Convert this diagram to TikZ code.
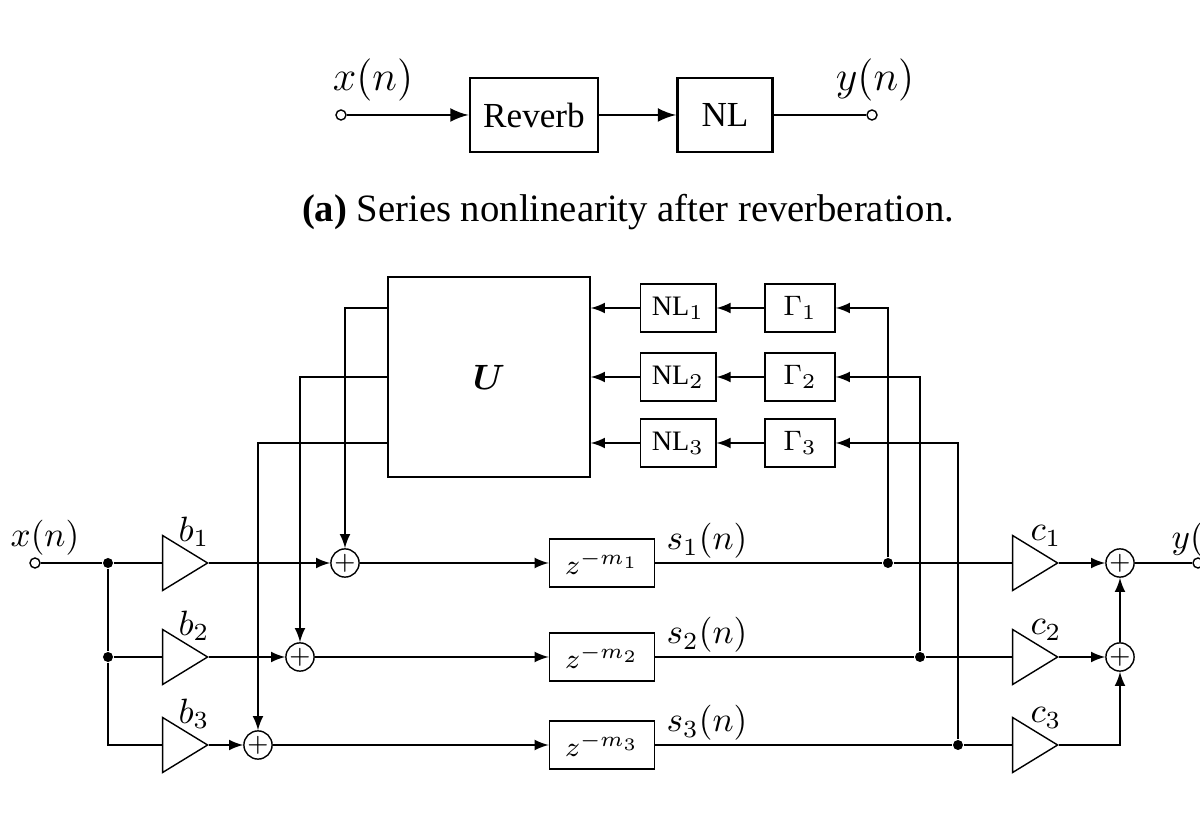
\documentclass[tikz,border=0pt]{standalone}
\usepackage{amsmath,bm}
\usepackage{fontspec}
\setmainfont{Liberation Serif}
\usetikzlibrary{arrows,shapes.geometric}

\begin{document}
\begin{tikzpicture}[x=0.01cm,y=-0.01cm]
    \tikzset{block/.style = {draw, thick, minimum width=1cm, minimum height=0.74cm, font=\normalsize}}
    \tikzset{sblock/.style = {draw, minimum width=0.72cm, minimum height=0.48cm, font=\footnotesize}}
    \tikzset{amp/.style = {draw, isosceles triangle, isosceles triangle apex angle=64, inner sep=0pt, minimum width=0.55cm, minimum height=0.45cm, isosceles triangle stretches}}
    \tikzset{adder/.style = {draw, circle, minimum size=0.26cm, inner sep=0pt, font=\scriptsize}}
    \tikzset{term/.style = {draw, circle, fill=white, minimum size=0.1cm, inner sep=0pt}}
    \tikzset{dot/.style = {circle, fill, minimum size=0.1cm, inner sep=0pt}}
    \tikzset{wire/.style = {draw, ->, >=latex}}
    \useasboundingbox (0,0) rectangle (1200,828);

    % (a) series
    \node[term] (xa) at (341,115) {};
    \node[block, minimum width=1.28cm] (rev) at (534,115) {Reverb};
    \node[block, minimum width=0.95cm] (nla) at (725,115) {NL};
    \node[term] (ya) at (872,115) {};
    \node[font=\large] (xal) at (373,80) {$x(n)$};
    \node[font=\large] (yal) at (875,80) {$y(n)$};
    \draw[wire, thick] (xa) -- (rev);
    \draw[wire, thick] (rev) -- (nla);
    \draw[thick] (nla) -- (ya);
    \node[font=\fontsize{11}{13}\selectfont] (capa) at (628,212) {\textbf{(a)} Series nonlinearity after reverberation.};

    % (b) feedback block
    \node[draw, minimum width=2.02cm, minimum height=2cm] (U) at (489,377) {$\bm{U}$};
    \foreach \i/\y in {1/308, 2/377, 3/443} {
        \node[sblock] (nl\i) at (678,\y) {NL$_\i$};
        \node[sblock, minimum width=0.7cm] (g\i) at (800,\y) {$\Gamma_\i$};
        \coordinate (u\i) at (U.east |- nl\i);
        \draw[wire] (g\i) -- (nl\i);
        \draw[wire] (nl\i) -- (u\i);
    }

    % main rows
    \node[term] (x) at (35,563) {};
    \node (xl) at (45,538) {$x(n)$};
    \foreach \i/\y/\ax/\fx in {1/563/345/888, 2/657/300/920, 3/745/258/958} {
        \node[amp] (b\i) at (178,\y) {};
        \node (bl\i) at (194,\y-31) {$b_\i$};
        \node[adder] (a\i) at (\ax,\y) {$+$};
        \node[sblock, minimum width=1.05cm] (d\i) at (602,\y) {$z^{-m_\i}$};
        \node (sl\i) at (707,\y-22) {$s_\i(n)$};
        \node[dot] (f\i) at (\fx,\y) {};
        \node[amp] (c\i) at (1028,\y) {};
        \node (cl\i) at (1046,\y-27) {$c_\i$};
        \draw[wire] (b\i) -- (a\i);
        \draw[wire] (a\i) -- (d\i);
        \draw (d\i) -- (f\i) -- (c\i);
        \draw[wire] (f\i) |- (g\i);
        \coordinate (ul\i) at (U.west |- nl\i);
        \draw[wire] (ul\i) -| (a\i);
    }
    \node[dot] (s1) at (108,563) {};
    \node[dot] (s2) at (108,657) {};
    \draw (x) -- (s1) -- (b1);
    \draw (s1) -- (s2) -- (b2);
    \draw (s2) |- (b3);

    % output summing
    \node[adder] (o1) at (1120,563) {$+$};
    \node[adder] (o2) at (1120,657) {$+$};
    \node[term] (y) at (1198,563) {};
    \node (yl) at (1205,540) {$y(n)$};
    \draw[wire] (c1) -- (o1);
    \draw[wire] (c2) -- (o2);
    \draw[wire] (c3) -| (o2);
    \draw[wire] (o2) -- (o1);
    \draw (o1) -- (y);
\end{tikzpicture}
\end{document}
